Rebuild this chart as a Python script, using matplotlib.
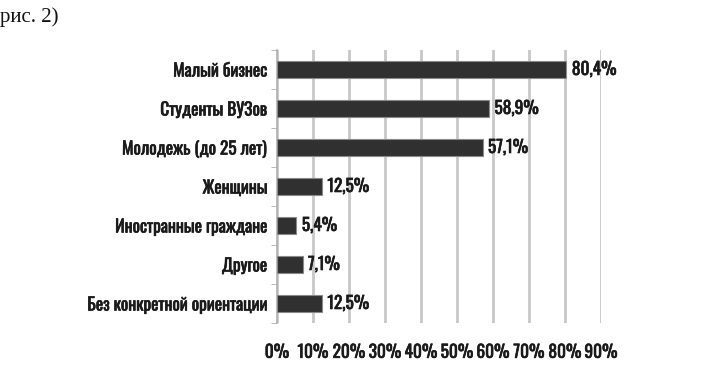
import matplotlib
matplotlib.use("Agg")
import matplotlib.pyplot as plt
import matplotlib.patheffects as pe
from matplotlib.ticker import MultipleLocator, PercentFormatter, FixedLocator

CATEGORIES = [
    "Малый бизнес",
    "Студенты ВУЗов",
    "Молодежь (до 25 лет)",
    "Женщины",
    "Иностранные граждане",
    "Другое",
    "Без конкретной ориентации",
]
VALUES = [80.4, 58.9, 57.1, 12.5, 5.4, 7.1, 12.5]
VALUE_LABELS = ["80,4%", "58,9%", "57,1%", "12,5%", "5,4%", "7,1%", "12,5%"]

FONT = ["Oswald", "Fira Sans Extra Condensed", "DejaVu Sans"]
plt.rcParams["font.family"] = FONT
FS = 12.5
TXT = "#1a1a1a"
# Oswald only ships as a light variable font here, so thicken it a little with a stroke
BOLD = [pe.withStroke(linewidth=0.45, foreground=TXT)]

fig = plt.figure(figsize=(7.14, 3.82), dpi=100)
W, H = 714, 382
ax = fig.add_axes([277 / W, 1 - 323 / H, (601 - 277) / W, (323 - 50) / H])

y = list(range(len(CATEGORIES)))
ax.barh(y, VALUES, height=0.45, color="#303030", edgecolor="#8a8a8a", linewidth=0.8, zorder=3)
for yi, v, lab in zip(y, VALUES, VALUE_LABELS):
    ax.text(v + 1.5, yi, lab, va="center", ha="left", fontsize=FS, color=TXT,
            path_effects=BOLD)

ax.set_xlim(0, 90)
ax.set_ylim(len(CATEGORIES) - 0.5, -0.5)
ax.xaxis.set_major_locator(MultipleLocator(10))
ax.xaxis.set_major_formatter(PercentFormatter(decimals=0))
ax.grid(axis="x", color="#c8c8c8", linewidth=2, zorder=0)
ax.set_yticks(y)
ax.set_yticklabels(CATEGORIES, fontsize=FS, color=TXT)
ax.yaxis.set_minor_locator(FixedLocator([i - 0.5 for i in range(len(CATEGORIES) + 1)]))
ax.tick_params(axis="y", which="major", length=0, pad=7)
ax.tick_params(axis="y", which="minor", length=4, color="#b0b0b0")
ax.tick_params(axis="x", length=0, pad=15, labelsize=FS, labelcolor=TXT)
for t in ax.get_xticklabels() + ax.get_yticklabels():
    t.set_path_effects(BOLD)
for s in ["top", "right", "bottom"]:
    ax.spines[s].set_visible(False)
ax.spines["left"].set_color("#b0b0b0")
ax.spines["left"].set_linewidth(1.2)

fig.text(0.0, 1 - 17 / H, "рис. 2)", fontsize=15, family=["Liberation Serif", "DejaVu Serif"],
         va="center", ha="left", color="#111111")

fig.savefig("out.png", dpi=100)
